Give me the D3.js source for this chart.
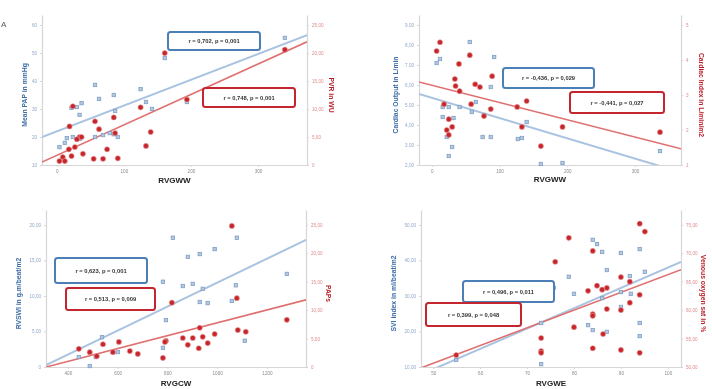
<!DOCTYPE html>
<html><head><meta charset="utf-8">
<script src="https://cdn.jsdelivr.net/npm/d3@7"></script>
<style>
html,body{margin:0;padding:0;background:#fff;}
svg{display:block;font-family:"Liberation Sans",Arial,sans-serif;}
</style></head>
<body><svg id="chart" width="712" height="389"></svg>
<script>
// ---------- Panel A: RVGWW vs Mean PAP / PVR ----------
const p1X_blue = [340,161,57,125,85,63,37,133,30,22,87,142,34,194,57,69,79,91,24,15,4,12,34,85];
const p1Y_blue = [55.4,48.2,38.6,37.1,35,33.6,32.1,32.5,30.7,30.4,29.3,30,27.9,32.5,20,20.7,21.4,20,20,19.6,16.4,17.9,19.3,21];
const p1X_red = [340,161,194,125,24,85,57,19,63,140,87,34,37,30,27,18,75,133,39,22,9,4,12,55,69,91];
const p1Y_red = [20.6,20.0,11.7,10.3,10.5,8.5,7.8,6.9,6.4,5.9,5.7,5.0,5.0,4.6,3.2,2.8,2.8,3.4,2.0,1.6,1.4,0.7,0.7,1.1,1.1,1.2];
const p1Fit_blue = [22.0, 0.0922];
const p1Fit_red = [1.73, 0.0544];
const p1XTicks = [0,100,200,300];
const p1LeftTicks = [10,20,30,40,50,60];
const p1RightTicks = [0,5,10,15,20,25];
const p1Text = ["RVGWW","Mean PAP in mmHg","PVR in WU","r = 0,702, p = 0,001","r = 0,748, p = 0,001"];

// ---------- Panel B: RVGWW vs Cardiac Output / Cardiac Index ----------
const p2X_blue = [7,12,56,92,87,16,25,41,59,65,16,32,77,22,30,25,75,87,127,133,140,161,193,337];
const p2Y_blue = [7.1,7.3,8.15,7.4,5.9,4.9,4.9,4.9,4.65,5.15,4.4,4.35,4.5,3.4,2.9,2.45,3.4,3.4,3.3,3.35,4.15,2.05,2.1,2.7];
const p2X_red = [12,7,56,40,89,34,64,35,41,71,18,58,140,87,126,77,25,30,22,25,133,193,161,337];
const p2Y_red = [4.51,4.26,4.14,3.89,3.54,3.46,3.31,3.26,3.11,3.23,2.74,2.74,2.83,2.6,2.66,2.4,2.31,2.09,2.0,1.86,2.09,2.09,1.54,1.94];
const p2Fit_blue = [5.36, -0.01013];
const p2Fit_red = [3.28, -0.004935];
const p2XTicks = [0,100,200,300];
const p2LeftTicks = [2,3,4,5,6,7,8,9];
const p2RightTicks = [1,2,3,4,5];
const p2Text = ["RVGWW","Cardiac Output in L/min","Cardiac Index in L/min/m2","r = -0,436, p = 0,029","r = -0,441, p = 0,027"];

// ---------- Panel C: RVGCW vs RVSWI / PAPs ----------
const p3X_blue = [822,1079,990,930,882,1280,782,902,862,1075,942,930,962,1059,794,1111,782,537,601,444,512,488];
const p3Y_blue = [18.2,18.2,16.6,15.9,15.5,13.1,12.0,11.7,11.4,11.5,11.0,9.15,9.0,9.3,6.6,3.7,2.7,4.2,2.1,1.4,1.4,0.14];
const p3X_red = [1059,818,1079,1280,930,990,1083,1115,862,902,942,794,790,882,962,605,541,444,488,581,649,681,516,926,782];
const p3Y_red = [24.8,11.3,12.1,8.3,6.9,5.8,6.5,6.2,5.1,5.1,5.3,4.6,4.4,3.9,4.2,4.4,4.0,3.2,2.6,2.6,2.8,2.3,1.9,3.3,1.6];
const p3Fit_blue = [-4.98, 0.01686];
const p3Fit_red = [-3.53, 0.0113];
const p3XTicks = [400,600,800,1000,1200];
const p3LeftTicks = [0,5,10,15,20];
const p3RightTicks = [0,5,10,15,20,25];
const p3Text = ["RVGCW","RVSWI in g.m/beat/m2","PAPs","r = 0,623, p = 0,001","r = 0,513, p = 0,009"];

// ---------- Panel D: RVGWE vs SVI / Venous oxygen saturation ----------
const p4X_blue = [84.0,84.9,86.0,90.0,94.0,95.1,87.0,78.9,91.9,75.7,80.0,90.0,92.1,86.0,90.0,84.0,73.0,83.0,84.0,87.0,94.0,94.0,73.0,54.9];
const p4Y_blue = [45.8,44.6,42.4,42.1,43.2,36.8,37.3,35.4,35.6,32.3,30.6,31.1,30.6,29.4,26.9,24.4,22.4,21.8,20.4,19.9,22.4,18.7,10.8,12.0];
const p4X_red = [94.0,95.1,78.9,76.0,84.0,90.0,91.9,84.9,87.0,86.0,83.0,94.0,91.9,87.0,90.0,84.0,84.0,80.0,86.2,73.0,73.0,73.0,84.0,90.0,94.0,54.9];
const p4Y_red = [75.2,73.8,72.7,68.5,70.4,65.8,65.0,64.3,63.9,63.6,63.4,62.7,61.3,60.2,60.0,59.3,59.0,57.0,55.8,55.1,52.8,52.5,53.3,53.0,52.5,52.1];
const p4Fit_blue = [-19.25, 0.5725];
const p4Fit_red = [35.08, 0.3115];
const p4XTicks = [50,60,70,80,90,100];
const p4LeftTicks = [10,20,30,40,50];
const p4RightTicks = [50,55,60,65,70,75];
const p4Text = ["RVGWE","SVI index in ml/beat/m2","Venous oxygen sat in %","r = 0,496, p = 0,011","r = 0,399, p = 0,048"];

// ---------- layout (positions / styles) ----------
const BLUE_PT = "#7f9fc6", RED_PT = "#c6262c";
const BLUE_LN = "#a9c3e0", RED_LN = "#e06f70";
const BLUE_BOX = "#4d7fb7", RED_BOX = "#c3282e";
const BLUE_TXT = "#3c6da6", RED_TXT = "#b81f28";

const fmtComma = v => v === 0 ? "0" : d3.format(".2f")(v).replace(".", ",");
const fmtInt = v => String(v);

const panels = [
  {xB:p1X_blue,yB:p1Y_blue,xR:p1X_red,yR:p1Y_red,fB:p1Fit_blue,fR:p1Fit_red,xt:p1XTicks,lt:p1LeftTicks,rt:p1RightTicks,txt:p1Text,
   box:{l:42,r:307,t:15,b:165}, xd:[-22,373], ld:[10,63.57], rd:[0,26.8], lf:fmtInt, rf:fmtComma,
   bBox:[168,32,92,18], rBox:[203,88,92,19], llx:27, rlx:329, xly:183},
  {xB:p2X_blue,yB:p2Y_blue,xR:p2X_red,yR:p2Y_red,fB:p2Fit_blue,fR:p2Fit_red,xt:p2XTicks,lt:p2LeftTicks,rt:p2RightTicks,txt:p2Text,
   box:{l:419,r:681,t:15,b:165}, xd:[-19,368], ld:[2,9.5], rd:[1,5.29], lf:fmtComma, rf:fmtInt,
   bBox:[503,68,91,20], rBox:[570,92,94,21], llx:398, rlx:699, xly:182},
  {xB:p3X_blue,yB:p3Y_blue,xR:p3X_red,yR:p3Y_red,fB:p3Fit_blue,fR:p3Fit_red,xt:p3XTicks,lt:p3LeftTicks,rt:p3RightTicks,txt:p3Text,
   box:{l:46,r:306,t:210,b:367}, xd:[312,1357], ld:[0,22.1], rd:[0,27.6], lf:fmtComma, rf:fmtComma,
   bBox:[55,258,92,25], rBox:[66,288,89,22], llx:21, rlx:326, xly:386},
  {xB:p4X_blue,yB:p4Y_blue,xR:p4X_red,yR:p4Y_red,fB:p4Fit_blue,fR:p4Fit_red,xt:p4XTicks,lt:p4LeftTicks,rt:p4RightTicks,txt:p4Text,
   box:{l:421,r:681,t:210,b:367}, xd:[47.4,102.8], ld:[10,54.2], rd:[50,77.6], lf:fmtComma, rf:fmtComma,
   bBox:[463,281,91,21], rBox:[426,303,95,23], llx:396, rlx:701, xly:386}
];

const svg = d3.select("#chart");
const defs = svg.append("defs");
defs.append("filter").attr("id","soft").append("feGaussianBlur").attr("stdDeviation",0.55);
const root = svg.append("g").attr("filter","url(#soft)");

root.append("text").attr("x",1).attr("y",27).attr("font-size",8).attr("fill","#556").text("A");

panels.forEach((p,i) => {
  const g = root.append("g");
  const x = d3.scaleLinear().domain(p.xd).range([p.box.l,p.box.r]);
  const yl = d3.scaleLinear().domain(p.ld).range([p.box.b,p.box.t]);
  const yr = d3.scaleLinear().domain(p.rd).range([p.box.b,p.box.t]);

  const clipId = "clip"+i;
  defs.append("clipPath").attr("id",clipId).append("rect")
    .attr("x",p.box.l).attr("y",p.box.t).attr("width",p.box.r-p.box.l).attr("height",p.box.b-p.box.t);

  const styleAxis = (sel, col) => {
    sel.select(".domain").attr("stroke","#d6d6d6").attr("stroke-width",1.2);
    sel.selectAll(".tick line").attr("stroke","#d6d6d6");
    sel.selectAll(".tick text").attr("fill",col).attr("font-size",4.6);
  };
  g.append("g").attr("transform",`translate(0,${p.box.b})`)
    .call(d3.axisBottom(x).tickValues(p.xt).tickFormat(fmtInt).tickSize(2).tickSizeOuter(0).tickPadding(3))
    .call(s=>styleAxis(s,"#8a8a8a"));
  g.append("g").attr("transform",`translate(${p.box.l},0)`)
    .call(d3.axisLeft(yl).tickValues(p.lt).tickFormat(p.lf).tickSize(2).tickSizeOuter(0).tickPadding(3))
    .call(s=>styleAxis(s,"#8fa7c8"));
  g.append("g").attr("transform",`translate(${p.box.r},0)`)
    .call(d3.axisRight(yr).tickValues(p.rt).tickFormat(p.rf).tickSize(2).tickSizeOuter(0).tickPadding(3))
    .call(s=>styleAxis(s,"#df8a8c"));

  const lineG = g.append("g").attr("clip-path",`url(#${clipId})`);
  const xs = p.xd;
  lineG.append("line")
    .attr("x1",x(xs[0])).attr("y1",yl(p.fB[0]+p.fB[1]*xs[0]))
    .attr("x2",x(xs[1])).attr("y2",yl(p.fB[0]+p.fB[1]*xs[1]))
    .attr("stroke",BLUE_LN).attr("stroke-width",2);
  lineG.append("line")
    .attr("x1",x(xs[0])).attr("y1",yr(p.fR[0]+p.fR[1]*xs[0]))
    .attr("x2",x(xs[1])).attr("y2",yr(p.fR[0]+p.fR[1]*xs[1]))
    .attr("stroke",RED_LN).attr("stroke-width",1.6);

  g.append("g").selectAll("rect").data(d3.range(p.xB.length)).join("rect")
    .attr("x",j=>x(p.xB[j])-1.7).attr("y",j=>yl(p.yB[j])-1.7)
    .attr("width",3.4).attr("height",3.4)
    .attr("fill","#b4c8e0").attr("stroke",BLUE_PT).attr("stroke-width",0.8);
  g.append("g").selectAll("circle").data(d3.range(p.xR.length)).join("circle")
    .attr("cx",j=>x(p.xR[j])).attr("cy",j=>yr(p.yR[j])).attr("r",2.6)
    .attr("fill",RED_PT).attr("stroke","#e9a0a0").attr("stroke-width",0.6);

  const drawBox = (b, col, label) => {
    g.append("rect").attr("x",b[0]).attr("y",b[1]).attr("width",b[2]).attr("height",b[3])
      .attr("rx",2.5).attr("fill","#fff").attr("stroke",col).attr("stroke-width",2);
    g.append("text").attr("x",b[0]+b[2]/2).attr("y",b[1]+b[3]/2+2)
      .attr("text-anchor","middle").attr("font-size",5.8).attr("font-weight","bold").attr("fill","#333").text(label);
  };
  drawBox(p.bBox, BLUE_BOX, p.txt[3]);
  drawBox(p.rBox, RED_BOX, p.txt[4]);

  g.append("text").attr("x",(p.box.l+p.box.r)/2).attr("y",p.xly)
    .attr("text-anchor","middle").attr("font-size",8).attr("font-weight","bold").attr("fill","#222").text(p.txt[0]);
  const mid = (p.box.t+p.box.b)/2 + 5;
  g.append("text").attr("transform",`translate(${p.llx},${mid}) rotate(-90)`)
    .attr("text-anchor","middle").attr("font-size",6.8).attr("font-weight","bold").attr("fill",BLUE_TXT).text(p.txt[1]);
  g.append("text").attr("transform",`translate(${p.rlx},${mid}) rotate(90)`)
    .attr("text-anchor","middle").attr("font-size",6.8).attr("font-weight","bold").attr("fill",RED_TXT).text(p.txt[2]);
});
</script>
</body></html>
